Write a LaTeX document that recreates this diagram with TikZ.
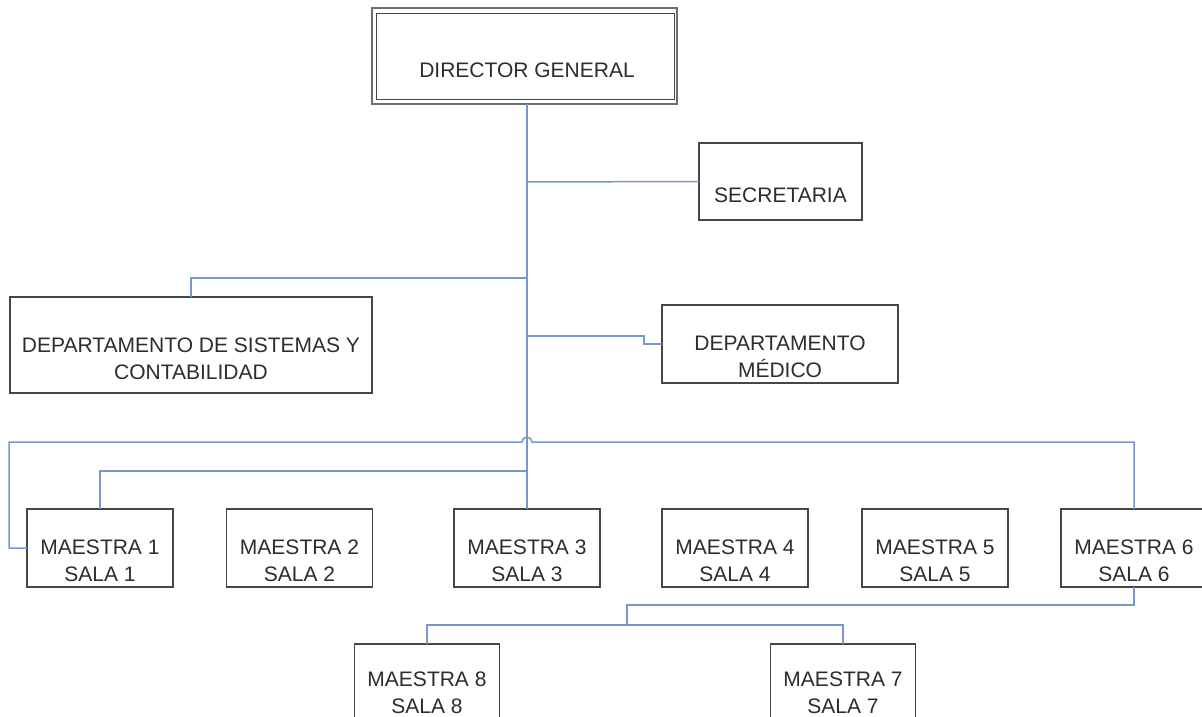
\documentclass[tikz,border=0pt]{standalone}
\usepackage{fontspec}
\setmainfont{Liberation Sans}
\definecolor{boxc}{RGB}{70,70,70}
\definecolor{dgout}{RGB}{110,110,110}
\definecolor{txtc}{RGB}{45,45,45}
\definecolor{linkc}{RGB}{120,152,205}
\begin{document}
\begin{tikzpicture}[x=1pt,y=-1pt,
  box/.style={draw=boxc, line width=1.8pt, inner sep=0pt, outer sep=0pt, fill=white, rectangle},
  txt/.style={text=txtc, font=\fontsize{21}{27}\selectfont, align=center, inner sep=0pt},
  link/.style={draw=linkc, line width=1.5pt}]
\useasboundingbox (0,0) rectangle (1202,717);
\clip (0,0) rectangle (1202,717);
\fill[white] (0,0) rectangle (1202,717);

% boxes
\node[box, minimum width=305pt, minimum height=96pt, draw=dgout, line width=2.6pt] (dg) at (524.5,56) {};
\node[box, minimum width=298pt, minimum height=86pt, line width=1.2pt] (dgin) at (525.5,56.5) {};
\node[txt] (dgt) at (527,70) {DIRECTOR GENERAL};

\node[box, minimum width=163pt, minimum height=77pt] (sec) at (780.5,181.5) {};
\node[txt] (sect) at (780.5,195) {SECRETARIA};

\node[box, minimum width=362pt, minimum height=96pt] (dsis) at (191,345) {};
\node[txt] (dsist) at (191,359) {DEPARTAMENTO DE SISTEMAS Y\\CONTABILIDAD};

\node[box, minimum width=236pt, minimum height=78pt] (med) at (780,344) {};
\node[txt] (medt) at (780,357) {DEPARTAMENTO\\MÉDICO};

\foreach \n/\x in {1/100,2/299.5,3/527,4/735,5/935,6/1134}{
  \node[box, minimum width=146pt, minimum height=78pt] (m\n) at (\x,548) {};
  \node[txt] (m\n t) at (\x,561) {MAESTRA \n\\SALA \n};
}
\node[box, minimum width=145pt, minimum height=78pt] (m8) at (427,683) {};
\node[txt] (m8t) at (427,693) {MAESTRA 8\\SALA 8};
\node[box, minimum width=145pt, minimum height=78pt] (m7) at (843,683) {};
\node[txt] (m7t) at (843,693) {MAESTRA 7\\SALA 7};

% connectors
\coordinate (top) at (dg.south -| m3.north);
\draw[link] (top) -- (m3.north);
\draw[link] (527,182) -- (sec.west);
\draw[link] (527,278) -| (dsis.north);
\draw[link] (527,336) -- (644,336) -- (644,344) -- (med.west);
\draw[link] (527,471) -| (m1.north);
\draw[link] (m6.north) -- (1134,442) -- (532,442)
   arc[start angle=0, end angle=180, radius=5pt] -- (9,442) -- (9,548) -- (m1.west);
\draw[link] (m6.south) -- (1134,605) -- (627,605) -- (627,625);
\draw[link] (m8.north) -- (427,625) -- (843,625) -- (m7.north);
\end{tikzpicture}
\end{document}
